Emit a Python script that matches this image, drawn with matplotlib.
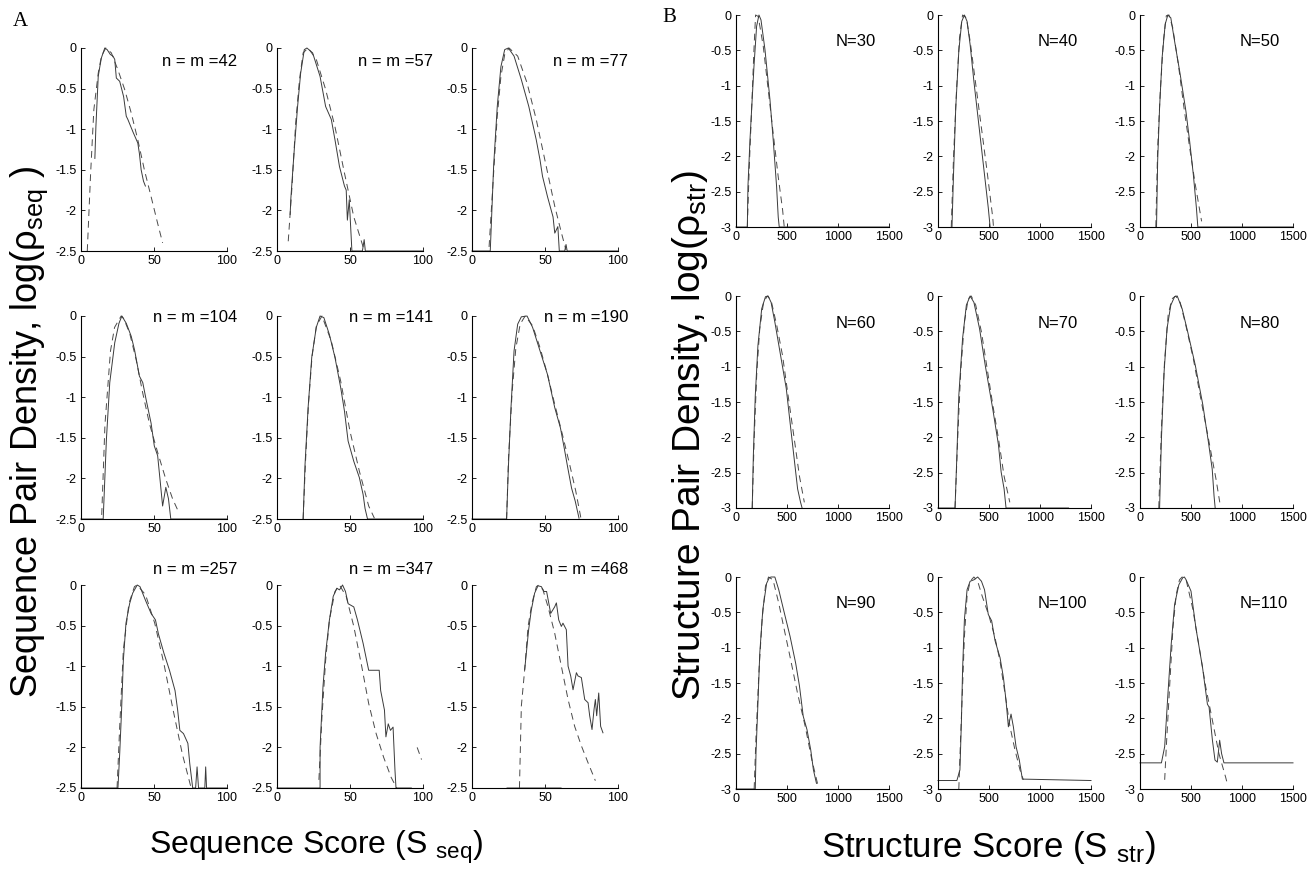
import numpy as np
import matplotlib
matplotlib.use("Agg")
import matplotlib.pyplot as plt

plt.rcParams["font.family"] = ["Liberation Sans", "DejaVu Sans"]
plt.rcParams["mathtext.fontset"] = "custom"
plt.rcParams["mathtext.rm"] = "Liberation Sans"
plt.rcParams["mathtext.it"] = "Liberation Sans"

nan = np.nan

# ---- A: sequence score densities (log10), observed (solid) and fitted (dashed)
seq_sizes = [42, 57, 77, 104, 141, 190, 257, 347, 468]

seq_obs_x = [
    [9.5, 10.2, 11.8, 12.9, 14, 16.3, 17.9, 20.1, 21.9, 23.1, 24.2, 26.5, 29.2, 31, 32.1, 35.5, 38.9, 40, 41.2, 42.8, 44.1],
    [9, 9.5, 11, 12, 14.1, 16.2, 18.7, 20.5, 24.4, 29.5, 33.3, 37.2, 39.7, 42.8, 46.2, 47.4, 48.2, 49.5, 51.3, 58.5, 59.7, 60.5, 100],
    [0, 12.5, 13, 14.8, 17.3, 19.8, 22.4, 24.9, 28.8, 33.8, 38.9, 44, 46.6, 48.3, 51.7, 55.5, 56.7, 58.8, 59.8, 63.5, 64.4, 65.2, 100],
    [0, 15.2, 16.3, 17.4, 19.7, 23.1, 26, 28, 31, 34.4, 36.7, 40, 42.3, 44.6, 48, 50.2, 52.5, 54.1, 55.9, 58.1, 59.9, 61.5, 100],
    [17.9, 19.2, 21.3, 23.8, 26.9, 29.5, 32.1, 35.9, 39.7, 43.6, 46.2, 48.7, 52.6, 56.4, 59, 60.3, 62, 100],
    [0, 23.7, 24.9, 26.7, 28.8, 31.3, 33.8, 37.7, 41.5, 46.6, 51.7, 56.7, 60.6, 63.1, 65.6, 68.2, 70.7, 73.3],
    [0, 25.3, 26.5, 27.8, 29, 30.8, 33.3, 35.4, 38.5, 40.4, 44.2, 48, 51, 53, 56.8, 60.6, 64.4, 66.2, 67.7, 70.2, 73.2, 74.5, 76.5, 78.5, 79.5, 80.5, 84.8, 85.4, 86, 100],
    [0, 29.5, 29.5, 31.5, 33.3, 35.9, 38.5, 41, 42.8, 44.9, 46.9, 48.7, 52.6, 55.1, 59, 62.8, 66.7, 70, 71, 73.6, 74.6, 76.2, 77.7, 79.5, 80.8, 81.5, 92],
    [36.1, 38.8, 40.6, 42.9, 45.2, 47.5, 49.3, 51.1, 53.9, 56.6, 57.8, 59.4, 61.2, 62.3, 64.6, 65.8, 67.6, 69.2, 71.5, 72.6, 74.9, 77.2, 79.5, 80.6, 82.2, 83.6, 84.5, 85.4, 86.8, 88.1, 89.7, nan, 24, 61],
]
seq_obs_y = [
    [-1.36, -0.97, -0.35, -0.23, -0.12, 0, -0.02, -0.08, -0.1, -0.14, -0.37, -0.41, -0.6, -0.84, -0.88, -1.03, -1.17, -1.3, -1.5, -1.64, -1.7],
    [-2.05, -1.85, -1.46, -1.21, -0.72, -0.31, -0.02, 0, -0.06, -0.35, -0.72, -0.88, -1.13, -1.46, -1.7, -1.75, -2.12, -1.87, -2.5, -2.5, -2.36, -2.5, -2.5],
    [-2.5, -2.5, -2.28, -1.46, -0.72, -0.23, -0.02, 0, -0.1, -0.39, -0.72, -1.13, -1.38, -1.58, -1.83, -2.08, -2.28, -2.2, -2.5, -2.5, -2.42, -2.5, -2.5],
    [-2.5, -2.5, -2.01, -1.52, -0.82, -0.33, -0.09, 0, -0.09, -0.25, -0.42, -0.74, -0.82, -1.03, -1.32, -1.6, -1.72, -2.01, -2.34, -2.11, -2.25, -2.5, -2.5],
    [-2.5, -1.83, -1.13, -0.51, -0.14, 0, -0.02, -0.23, -0.51, -0.88, -1.17, -1.54, -1.79, -1.99, -2.2, -2.37, -2.5, -2.5],
    [-2.5, -2.5, -1.87, -1.13, -0.43, -0.1, -0.01, 0, -0.14, -0.43, -0.72, -1.13, -1.38, -1.62, -1.87, -2.12, -2.28, -2.49],
    [-2.5, -2.5, -2.08, -1.54, -0.93, -0.47, -0.23, -0.1, 0, -0.02, -0.19, -0.35, -0.43, -0.6, -0.84, -1.05, -1.3, -1.54, -1.79, -1.83, -1.95, -2.2, -2.5, -2.5, -2.24, -2.5, -2.5, -2.24, -2.5, -2.5],
    [-2.5, -2.5, -2.0, -1.25, -0.84, -0.43, -0.14, -0.04, -0.06, 0, -0.08, -0.23, -0.27, -0.43, -0.72, -1.05, -1.05, -1.05, -1.3, -1.54, -1.87, -1.71, -1.79, -1.75, -2.28, -2.5, -2.5],
    [-1.04, -0.55, -0.31, -0.1, -0.01, -0.02, -0.08, -0.08, -0.35, -0.27, -0.22, -0.43, -0.51, -0.47, -0.55, -1.0, -1.12, -1.29, -1.08, -1.12, -1.14, -1.41, -1.45, -1.61, -1.78, -1.53, -1.41, -1.61, -1.33, -1.74, -1.82, nan, -2.5, -2.5],
]
seq_fit_x = [
    [4.3, 6.6, 8.8, 11.8, 14, 17, 20.8, 25.3, 29.9, 34.4, 38.9, 43.4, 48, 52.5, 55.9],
    [7.7, 10.3, 12.8, 15.4, 17.9, 21.3, 26.9, 33.3, 39.7, 46.2, 52.6, 59],
    [11.7, 14.8, 17.3, 19.8, 22.4, 25.4, 31.3, 37.7, 44, 50.4, 56.7, 61.3, 64.4],
    [14.2, 16.4, 20.2, 23, 27.5, 29.2, 33.3, 37.8, 42.3, 46.8, 52.5, 58.1, 62.7, 66.5],
    [17.9, 19.5, 21.5, 24, 27, 30.8, 37.2, 43.6, 50, 56.4, 62.8, 66.7],
    [23.7, 25, 27.5, 30, 33, 36.4, 41.5, 46.6, 51.7, 56.7, 61.8, 66.9, 71, 74.6],
    [24.7, 26.5, 29, 32.8, 36.6, 38.4, 44.2, 50.5, 56.8, 63.1, 69.4, 75.3],
    [28.7, 30.8, 33.3, 35.9, 39.7, 42.8, 47.4, 52.6, 57.7, 62.8, 67.9, 73, 78.2, 82, nan, 96, 99],
    [32.5, 33.8, 36.1, 38.4, 41.1, 44.1, 45.7, 48.6, 52.1, 56.6, 61.2, 65.8, 70.3, 74.9, 79.5, 84.5],
]
seq_fit_y = [
    [-2.5, -1.54, -0.76, -0.31, -0.1, 0, -0.06, -0.27, -0.51, -0.8, -1.13, -1.5, -1.83, -2.16, -2.4],
    [-2.38, -1.7, -0.92, -0.39, -0.06, 0, -0.14, -0.51, -0.97, -1.54, -2.08, -2.45],
    [-2.45, -1.54, -0.84, -0.35, -0.08, 0, -0.1, -0.43, -0.88, -1.42, -1.95, -2.28, -2.49],
    [-2.45, -1.34, -0.43, -0.14, 0, -0.03, -0.21, -0.54, -0.95, -1.32, -1.68, -2.01, -2.25, -2.4],
    [-2.5, -1.8, -1.1, -0.5, -0.12, 0, -0.31, -0.8, -1.42, -1.91, -2.34, -2.49],
    [-2.5, -1.75, -0.93, -0.4, -0.1, 0, -0.12, -0.39, -0.72, -1.09, -1.45, -1.83, -2.15, -2.49],
    [-2.5, -1.75, -0.8, -0.23, -0.02, 0, -0.12, -0.47, -0.97, -1.54, -2.08, -2.49],
    [-2.4, -1.62, -0.93, -0.43, -0.08, 0, -0.14, -0.51, -0.97, -1.46, -1.83, -2.12, -2.37, -2.5, nan, -2.0, -2.15],
    [-2.5, -1.49, -1.04, -0.51, -0.22, -0.02, 0, -0.06, -0.27, -0.59, -1.0, -1.41, -1.74, -1.98, -2.19, -2.41],
]

# ---- B: structure score densities (log10)
str_sizes = [30, 40, 50, 60, 70, 80, 90, 100, 110]

str_obs_x = [
    [0, 111, 117, 137, 153, 176, 202, 225, 245, 284, 333, 365, 398, 414, 424, 1500],
    [137, 152, 174, 204, 233, 259, 285, 315, 352, 389, 426, 463, 493, 511],
    [162, 173, 192, 217, 247, 273, 302, 339, 394, 450, 487, 523, 553, 567, 1500],
    [159, 170, 189, 215, 252, 289, 315, 344, 381, 437, 493, 530, 567, 604, 633, 648],
    [0, 167, 185, 204, 241, 278, 315, 352, 407, 463, 537, 593, 619, 648, 667, 1280],
    [192, 210, 236, 265, 302, 339, 365, 413, 468, 542, 616, 671, 708, 726, 737],
    [0, 189, 196, 215, 233, 263, 300, 326, 344, 381, 419, 474, 530, 585, 622, 659, 696, 733, 759, 789],
    [0, 185, 215, 230, 241, 259, 285, 315, 352, 389, 426, 456, 493, 526, 559, 608, 641, 667, 690, 716, 739, 765, 797, 827, 1500],
    [0, 210, 242, 274, 306, 339, 381, 419, 435, 452, 500, 548, 613, 661, 677, 710, 735, 758, 781, 800, 823, 1500],
]
str_obs_y = [
    [-3, -3, -2.43, -1.77, -1.34, -0.73, -0.16, 0, -0.07, -0.49, -1.2, -1.77, -2.43, -2.86, -3, -3],
    [-3, -2.26, -1.31, -0.51, -0.09, 0, -0.09, -0.42, -0.94, -1.41, -1.88, -2.35, -2.73, -3],
    [-3, -2.07, -1.31, -0.6, -0.13, 0, -0.04, -0.37, -0.84, -1.36, -1.79, -2.26, -2.73, -3, -3],
    [-3, -2.26, -1.41, -0.7, -0.18, -0.01, 0, -0.09, -0.37, -0.84, -1.31, -1.79, -2.26, -2.73, -2.92, -3],
    [-3, -3, -2.26, -1.41, -0.6, -0.13, 0, -0.09, -0.46, -0.98, -1.6, -2.11, -2.49, -2.73, -3, -3],
    [-3, -2.02, -1.08, -0.46, -0.13, -0.01, 0, -0.18, -0.51, -0.98, -1.54, -2.07, -2.45, -2.83, -3],
    [-3, -3, -2.49, -1.79, -1.08, -0.46, -0.09, -0.01, 0, 0, -0.18, -0.51, -0.84, -1.22, -1.54, -1.97, -2.16, -2.45, -2.73, -2.92],
    [-2.88, -2.88, -2.73, -2.02, -1.31, -0.6, -0.18, -0.06, -0.04, 0, -0.06, -0.18, -0.53, -0.62, -0.9, -1.14, -1.42, -1.75, -2.12, -1.94, -2.12, -2.4, -2.59, -2.86, -2.88],
    [-2.63, -2.63, -2.4, -1.65, -0.95, -0.39, -0.11, -0.01, 0, -0.04, -0.2, -0.72, -1.28, -1.8, -1.84, -2.31, -2.59, -2.62, -2.31, -2.5, -2.63, -2.63],
]
str_fit_x = [
    [111, 130, 153, 176, 192, 218, 267, 316, 365, 414, 457, 473],
    [130, 152, 181, 211, 241, 278, 315, 370, 426, 481, 537, 544],
    [155, 173, 199, 229, 258, 284, 321, 376, 431, 487, 542, 604],
    [159, 178, 204, 233, 270, 307, 344, 400, 456, 511, 567, 622, 670],
    [167, 193, 222, 259, 296, 326, 370, 426, 481, 537, 593, 648, 704],
    [184, 210, 240, 276, 313, 350, 394, 450, 523, 597, 671, 745, 782],
    [178, 196, 226, 256, 289, 319, 363, 419, 474, 530, 604, 678, 744, 807],
    [204, 222, 241, 259, 285, 315, 352, 389, 433, 500, 559, 608, 657, 706, 755, 804, 837],
    [242, 258, 290, 323, 355, 387, 413, 452, 516, 581, 645, 710, 774, 839, 855],
]
str_fit_y = [
    [-3, -2.15, -1.34, -0.49, 0, -0.02, -0.44, -1.06, -1.68, -2.29, -2.76, -3],
    [-3, -2.02, -1.08, -0.32, 0, -0.04, -0.37, -0.98, -1.6, -2.21, -2.87, -3],
    [-3, -1.88, -1.08, -0.37, -0.01, 0, -0.18, -0.7, -1.31, -1.88, -2.4, -2.92],
    [-3, -2.02, -1.08, -0.46, -0.09, 0, -0.06, -0.42, -0.84, -1.41, -1.98, -2.55, -2.92],
    [-3, -2.02, -1.08, -0.37, -0.04, 0, -0.13, -0.51, -1.02, -1.54, -2.02, -2.55, -2.92],
    [-3, -1.88, -0.94, -0.27, -0.04, 0, -0.09, -0.42, -0.89, -1.46, -2.02, -2.59, -2.92],
    [-3, -2.26, -1.31, -0.6, -0.13, 0, -0.04, -0.37, -0.75, -1.13, -1.65, -2.11, -2.59, -2.97],
    [-3, -2.26, -1.55, -0.84, -0.27, -0.06, 0, -0.06, -0.27, -0.55, -0.86, -1.19, -1.65, -2.12, -2.45, -2.73, -2.87],
    [-2.87, -2.4, -1.56, -0.72, -0.25, -0.04, 0, -0.04, -0.44, -1.0, -1.56, -2.03, -2.5, -2.83, -2.92],
]

seq_xticks = [0, 50, 100]
seq_yticks = [0, -0.5, -1, -1.5, -2, -2.5]
str_xticks = [0, 500, 1000, 1500]
str_yticks = [0, -0.5, -1, -1.5, -2, -2.5, -3]


def tick_text(v):
    # MATLAB-style labels: "0", "-0.5", "-1", "1500"
    return "%g" % v


W, H = 1309, 876
fig = plt.figure(figsize=(W / 100, H / 100), dpi=100)


def add_ax(left, top, w, h):
    return fig.add_axes([left / W, 1 - (top + h) / H, w / W, h / H])


def style_ax(ax, xlim, ylim, xt, yt):
    ax.set_xlim(*xlim)
    ax.set_ylim(*ylim)
    ax.set_xticks(xt)
    ax.set_xticklabels([tick_text(v) for v in xt])
    ax.set_yticks(yt)
    ax.set_yticklabels([tick_text(v) for v in yt])
    for s in ("top", "right"):
        ax.spines[s].set_visible(False)
    for s in ("left", "bottom"):
        ax.spines[s].set_linewidth(0.8)
    ax.tick_params(direction="in", length=3, width=0.6, labelsize=9, pad=3)
    ax.patch.set_alpha(0)


solid_kw = dict(color="#3a3a3a", lw=0.7, clip_on=False)
dash_kw = dict(color="#4a4a4a", lw=0.7, ls=(0, (7, 5)), clip_on=False)

# panel A grid (pixel layout)
a_lefts, a_tops, a_w, a_h = [81, 277, 472], [48, 316, 585], 146, 203
a_label_y = [62, 318, 570]
for i, n in enumerate(seq_sizes):
    r, c = divmod(i, 3)
    ax = add_ax(a_lefts[c], a_tops[r], a_w, a_h)
    ax.plot(seq_fit_x[i], seq_fit_y[i], **dash_kw)
    ax.plot(seq_obs_x[i], seq_obs_y[i], **solid_kw)
    style_ax(ax, (0, 100), (-2.5, 0), seq_xticks, seq_yticks)
    fig.text((a_lefts[c] + a_w + 10) / W, 1 - a_label_y[r] / H, "n = m =%d" % n,
             ha="right", va="center", fontsize=12)

# panel B grid
b_lefts, b_tops, b_w, b_h = [736, 938, 1140], [15, 296, 577], 153, 212
for i, n in enumerate(str_sizes):
    r, c = divmod(i, 3)
    ax = add_ax(b_lefts[c], b_tops[r], b_w, b_h)
    ax.plot(str_fit_x[i], str_fit_y[i], **dash_kw)
    ax.plot(str_obs_x[i], str_obs_y[i], **solid_kw)
    style_ax(ax, (0, 1500), (-3, 0), str_xticks, str_yticks)
    fig.text((b_lefts[c] + 100) / W, 1 - (b_tops[r] + 27) / H, "N=%d" % n,
             ha="left", va="center", fontsize=12)

# panel letters and shared axis titles
fig.text(13 / W, 1 - 22 / H, "A", family="Liberation Serif", fontsize=15, va="center")
fig.text(662 / W, 1 - 17 / H, "B", family="Liberation Serif", fontsize=15, va="center")

fig.text(316 / W, 1 - 847 / H, "Sequence Score (S $_{\\mathrm{seq}}$)",
         ha="center", va="center", fontsize=23)
fig.text(989 / W, 1 - 847 / H, "Structure Score (S $_{\\mathrm{str}}$)",
         ha="center", va="center", fontsize=25)
fig.text(29 / W, 1 - 432 / H, "Sequence Pair Density, log(ρ$_{\\mathrm{seq}}$ )",
         ha="center", va="center", rotation=90, fontsize=26)
fig.text(690 / W, 1 - 436 / H, "Structure Pair Density, log(ρ$_{\\mathrm{str}}$)",
         ha="center", va="center", rotation=90, fontsize=28)

fig.savefig("out.png", dpi=100)
